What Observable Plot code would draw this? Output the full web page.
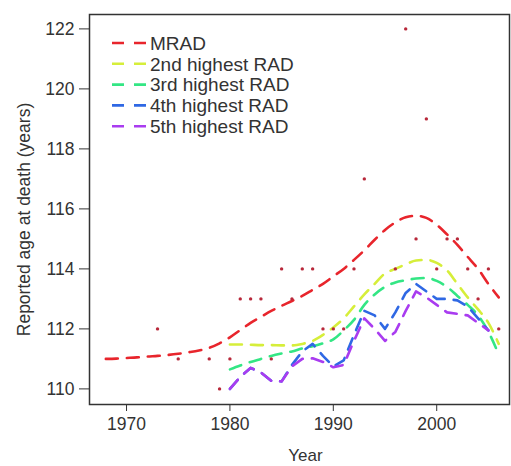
<!DOCTYPE html>
<html>
<head>
<meta charset="utf-8">
<script src="https://cdn.jsdelivr.net/npm/d3@7"></script>
<script src="https://cdn.jsdelivr.net/npm/@observablehq/plot@0.6"></script>
<style>
  html, body { margin: 0; padding: 0; background: #fff; }
  #chart svg { font-family: "Liberation Sans", Arial, Helvetica, sans-serif; }
</style>
</head>
<body>
<div id="chart"></div>
<script>
// ---- Data ----
const seriesNames = ["MRAD", "2nd highest RAD", "3rd highest RAD", "4th highest RAD", "5th highest RAD"];
const seriesColors = ["#e8252c", "#d6ee3a", "#33e684", "#2f68e4", "#a93cf0"];

const mradYears = [1968,1969,1970,1971,1972,1973,1974,1975,1976,1977,1978,1979,1980,1981,1982,1983,1984,1985,1986,1987,1988,1989,1990,1991,1992,1993,1994,1995,1996,1997,1998,1999,2000,2001,2002,2003,2004,2005,2006];
const mradValues = [111.0,111.01,111.03,111.05,111.08,111.1,111.13,111.17,111.22,111.28,111.37,111.52,111.72,111.96,112.2,112.4,112.6,112.77,112.93,113.1,113.3,113.5,113.75,114.0,114.3,114.62,114.97,115.3,115.55,115.72,115.77,115.7,115.47,115.15,114.8,114.4,114.0,113.5,113.05];

const rankYears = [1980,1981,1982,1983,1984,1985,1986,1987,1988,1989,1990,1991,1992,1993,1994,1995,1996,1997,1998,1999,2000,2001,2002,2003,2004,2005,2006];
const second = [111.48,111.48,111.47,111.46,111.46,111.45,111.45,111.5,111.6,111.8,112.05,112.35,112.75,113.15,113.5,113.85,114.0,114.15,114.28,114.3,114.2,113.95,113.5,113.05,112.65,112.2,111.5];
const third = [110.65,110.78,110.9,111.0,111.1,111.18,111.25,111.35,111.42,111.52,111.65,111.95,112.3,112.8,113.15,113.4,113.55,113.62,113.68,113.7,113.6,113.4,113.1,112.8,112.45,111.9,111.15];

const lowYears = [1980,1981,1982,1983,1984,1985,1986,1987,1988,1989,1990,1991,1992,1993,1994,1995,1996,1997,1998,1999,2000,2001,2002,2003,2004,2005];
const fourth = [110.0,110.4,110.7,110.55,110.27,110.25,110.8,111.25,111.5,111.1,110.75,110.95,111.8,112.6,112.45,112.0,112.55,113.2,113.5,113.25,113.0,113.0,112.95,112.75,112.35,111.95];
const fifth = [110.0,110.4,110.7,110.55,110.27,110.25,110.75,111.0,111.02,110.9,110.72,110.8,111.6,112.35,112.0,111.6,111.9,112.6,113.25,113.05,112.8,112.55,112.5,112.45,112.2,111.95];

// MRAD observed per year (red dots)
const dotYears = [1973,1975,1978,1979,1980,1981,1982,1983,1984,1985,1986,1987,1988,1989,1990,1991,1992,1993,1996,1997,1998,1999,2000,2001,2002,2003,2004,2005,2006];
const dotAges  = [112,111,111,110,111,113,113,113,111,114,113,114,114,112,112,112,114,117,114,122,115,119,114,115,115,114,113,114,112];

const xTicks = [1970, 1980, 1990, 2000];
const yTicks = [110, 112, 114, 116, 118, 120, 122];

// ---- Build tables ----
const seriesYears = [mradYears, rankYears, rankYears, lowYears, lowYears];
const seriesValues = [mradValues, second, third, fourth, fifth];
const curves = ["monotone-x", "monotone-x", "monotone-x", "linear", "linear"];
const lineRows = seriesNames.map((name, k) =>
  seriesYears[k].map((yr, i) => ({series: name, year: yr, age: seriesValues[k][i]})));
const dots = dotYears.map((yr, i) => ({year: yr, age: dotAges[i]}));

const W = 511, H = 466;
const dash = "12,9";
const textColor = "#333";

const chart = Plot.plot({
  width: W,
  height: H,
  marginLeft: 89,
  marginRight: 2,
  marginTop: 14,
  marginBottom: 62,
  style: {fontSize: "17.5px", color: textColor, background: "#fff", fontFamily: "Liberation Sans, Arial, sans-serif"},
  x: {domain: [1966.42, 2007.04], ticks: xTicks, tickFormat: d => String(d), tickSize: 7, tickPadding: 6, label: null},
  y: {domain: [109.48, 122.48], ticks: yTicks, tickFormat: d => String(d), tickSize: 10, tickPadding: 5, label: null},
  marks: [
    Plot.frame({stroke: "#333", strokeWidth: 1.5}),
    ...lineRows.map((rows, k) => Plot.line(rows, {
      x: "year", y: "age", stroke: seriesColors[k], strokeWidth: 2.6,
      strokeDasharray: dash, curve: curves[k]
    })),
    Plot.dot(dots, {x: "year", y: "age", r: 1.7, fill: "#b8283a", stroke: "none"}),
    Plot.text(["Year"], {frameAnchor: "bottom", dy: 56, dx: 6, fontSize: 17, fill: textColor}),
    Plot.text(["Reported age at death (years)"], {frameAnchor: "left", textAnchor: "middle", rotate: -90, dx: -65, dy: 10, fontSize: 17.5, fill: textColor})
  ]
});
document.getElementById("chart").appendChild(chart);

// ---- Legend inside the plot area (top-left) ----
const svg = d3.select(chart.tagName.toLowerCase() === "svg" ? chart : chart.querySelector("svg"));
const lg = svg.append("g").attr("class", "legend").attr("text-anchor", "start");
const rowY0 = 43, rowStep = 20.8;
seriesNames.forEach((name, k) => {
  const y = rowY0 + k * rowStep;
  lg.append("line")
    .attr("x1", 112).attr("x2", 147).attr("y1", y).attr("y2", y)
    .attr("stroke", seriesColors[k]).attr("stroke-width", 2.6)
    .attr("stroke-dasharray", "12,10");
  lg.append("text")
    .attr("x", 150).attr("y", y).attr("dy", "0.36em")
    .attr("text-anchor", "start")
    .attr("fill", textColor)
    .style("font-size", "19px")
    .style("font-family", "Liberation Sans, Arial, sans-serif")
    .text(name);
});
</script>
</body>
</html>
